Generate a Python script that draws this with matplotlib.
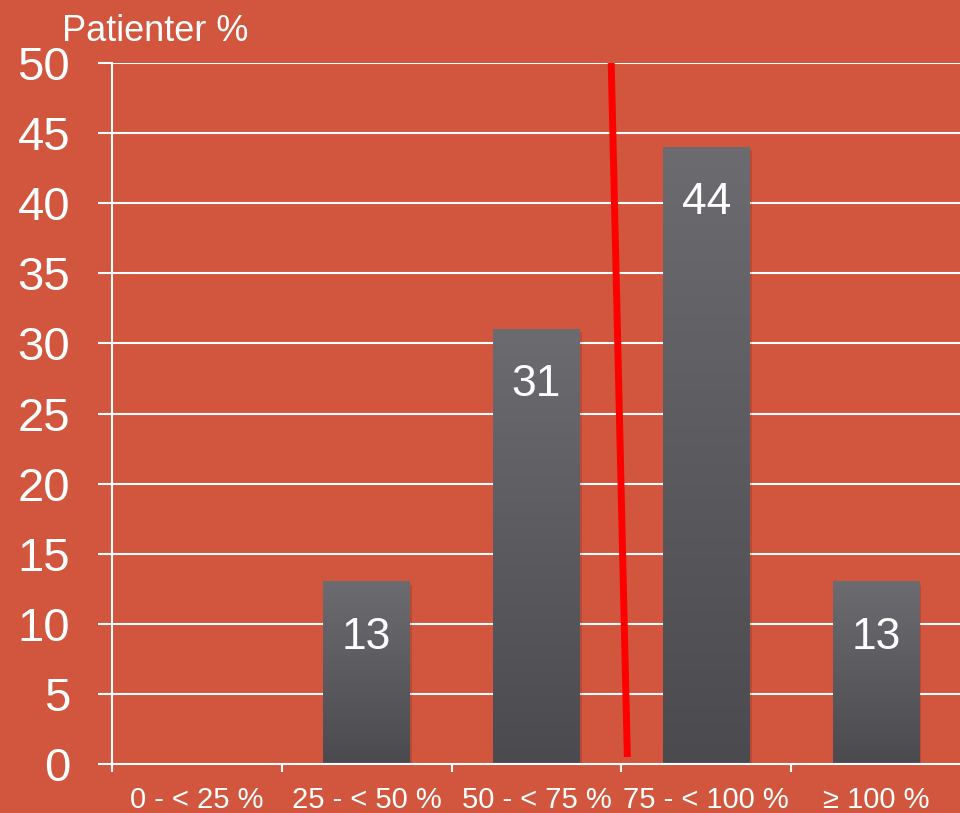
import numpy as np
import matplotlib
matplotlib.use("Agg")
import matplotlib.pyplot as plt
from matplotlib.patches import Rectangle

plt.rcParams['font.family'] = ['Liberation Sans', 'DejaVu Sans']

categories = ["0 - < 25 %", "25 - < 50 %", "50 - < 75 %", "75 - < 100 %", "\u2265 100 %"]
patients = [0, 13, 31, 44, 13]
bar_labels = ["", "13", "31", "44", "13"]
yticks = [0, 5, 10, 15, 20, 25, 30, 35, 40, 45, 50]

# threshold marker drawn across the chart (x in category units, y in %)
marker_x = [2.44, 2.535]
marker_y = [50, 0.5]

bg = "#D2553E"
top_col = np.array([0x6b, 0x6b, 0x70]) / 255
bot_col = np.array([0x4b, 0x4a, 0x4f]) / 255

fig = plt.figure(figsize=(9.6, 8.13), dpi=100, facecolor=bg)
ax = fig.add_axes([112/960, 49/813, 849/960, 701/813], facecolor=bg)

ax.set_xlim(-0.5, 4.5)
ax.set_ylim(0, 50)

# grid
for y in yticks[1:]:
    ax.axhline(y, color="white", lw=1.5, zorder=1)

# bars with vertical gradient
width = 0.51
grad = np.linspace(0, 1, 256)[:, None]
img = (top_col[None, None, :] * (1 - grad[:, :, None]) + bot_col[None, None, :] * grad[:, :, None])
for i, v in enumerate(patients):
    if v <= 0:
        continue
    x0 = i - width / 2
    ax.add_patch(Rectangle((x0 + 0.012, -0.3), width, v + 0.1, color="black",
                           alpha=0.12, lw=0, zorder=2))
    ax.imshow(img, extent=(x0, x0 + width, 0, v), aspect="auto", zorder=3,
              interpolation="bilinear")
    ax.annotate(bar_labels[i], (i, v), xytext=(0, -40), textcoords="offset points",
                ha="center", va="center", color="white", fontsize=32, zorder=5)

ax.plot(marker_x, marker_y, color="#FF0000", lw=5, solid_capstyle="butt", zorder=4)

ax.set_xlim(-0.5, 4.5)
ax.set_ylim(0, 50)

# spines and ticks
for s in ["top", "right"]:
    ax.spines[s].set_visible(False)
for s in ["left", "bottom"]:
    ax.spines[s].set_color("white")
    ax.spines[s].set_linewidth(1.5)
    ax.spines[s].set_zorder(6)

ax.set_yticks(yticks)
ax.tick_params(axis="y", colors="white", labelsize=34, length=10, width=1.5, pad=20)
ax.set_xticks([-0.5, 0.5, 1.5, 2.5, 3.5])
ax.set_xticklabels([])
ax.set_xticks(range(len(categories)), minor=True)
ax.set_xticklabels(categories, minor=True)
ax.tick_params(axis="x", which="major", colors="white", length=6, width=1.5)
ax.tick_params(axis="x", which="minor", colors="white", labelsize=21, length=0, pad=16)

fig.text(62/960, 1 - 41/813, "Patienter %", color="white", fontsize=26,
         ha="left", va="baseline")

fig.savefig("out.png", dpi=100, facecolor=bg)
